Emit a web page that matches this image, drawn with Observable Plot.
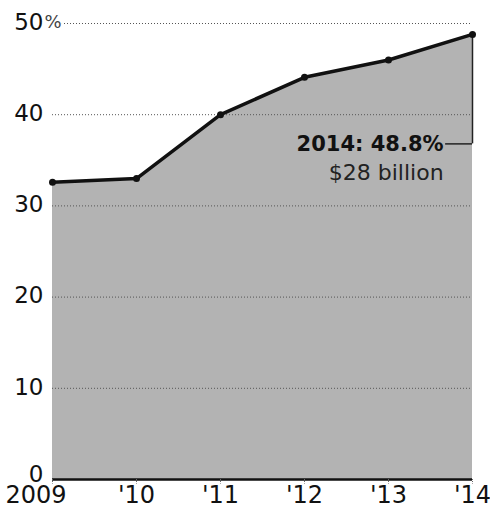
<!DOCTYPE html>
<html><head><meta charset="utf-8">
<script src="https://cdn.jsdelivr.net/npm/d3@7"></script>
<script src="https://cdn.jsdelivr.net/npm/@observablehq/plot@0.6"></script>
<style>html,body{margin:0;padding:0;background:#fff} svg{display:block}</style>
</head><body><div id="chart"></div>
<script>
const years = [2009, 2010, 2011, 2012, 2013, 2014];
const shares = [32.6, 33.0, 40.0, 44.1, 46.0, 48.8];
const yTicks = [0, 10, 20, 30, 40, 50];
const xTickLabels = ["2009", "'10", "'11", "'12", "'13", "'14"];
const annotationLines = ["2014: 48.8%", "$28 billion"];
const leaderY = 36.8;
const leaderX1 = 2013.68;

const data = years.map((year, i) => ({year, share: shares[i]}));
const last = data[data.length - 1];

const chart = Plot.plot({
  width: 490, height: 517,
  marginLeft: 52, marginRight: 18, marginTop: 23, marginBottom: 38,
  x: {domain: [2009, 2014], axis: null},
  y: {domain: [0, 50], axis: null},
  style: {fontFamily: "DejaVu Sans", background: "#fff", color: "#111", overflow: "visible"},
  marks: [
    Plot.areaY(data, {x: "year", y: "share", fill: "#b3b3b3"}),
    Plot.ruleY(yTicks.filter(d => d > 0), {stroke: "#555", strokeWidth: 1, strokeDasharray: "1,2"}),
    Plot.ruleY([0], {stroke: "#111", strokeWidth: 2.5}),
    Plot.ruleX(years, {x: d => d, y1: 0, y2: -0.5, stroke: "#666", strokeWidth: 1, strokeDasharray: "1,1"}),
    Plot.ruleX([last], {x: "year", y1: "share", y2: leaderY, stroke: "#222", strokeWidth: 1.5}),
    Plot.ruleY([leaderY], {x1: leaderX1, x2: 2014, stroke: "#222", strokeWidth: 1.5}),
    Plot.line(data, {x: "year", y: "share", stroke: "#111", strokeWidth: 3.5}),
    Plot.dot(data, {x: "year", y: "share", r: 3.5, fill: "#111"}),
    Plot.text([annotationLines[0]], {x: leaderX1, y: leaderY, text: d => d, textAnchor: "end", dx: -2, fontWeight: "bold", fontSize: 21, fill: "#111"}),
    Plot.text([annotationLines[1]], {x: leaderX1, y: leaderY, text: d => d, textAnchor: "end", dx: -2, dy: 29, fontSize: 22, fill: "#222"}),
    Plot.text(yTicks, {y: d => d, text: d => String(d), frameAnchor: "left", lineAnchor: "middle", dx: -9, dy: -1, textAnchor: "end", fontSize: 23, fill: "#111"}),
    Plot.text([50], {y: d => d, text: () => "%", frameAnchor: "left", lineAnchor: "middle", dx: -8, dy: -1, textAnchor: "start", fontSize: 18, fill: "#444", stroke: "#fff", strokeWidth: 3}),
    Plot.text(years.slice(1), {x: d => d, text: (d, i) => xTickLabels[i + 1], frameAnchor: "bottom", lineAnchor: "middle", dy: 16, fontSize: 24, fill: "#111"}),
    Plot.text([years[0]], {x: d => d, text: () => xTickLabels[0], frameAnchor: "bottom", lineAnchor: "middle", textAnchor: "start", dx: -47, dy: 16, fontSize: 24, fill: "#111"})
  ]
});
// nudge the baseline "0" label up slightly, as in the reference
d3.select(chart).selectAll("text").filter(function() { return this.textContent === "0"; }).attr("dy", "-0.15em");
document.getElementById("chart").appendChild(chart);
</script>
</body></html>
